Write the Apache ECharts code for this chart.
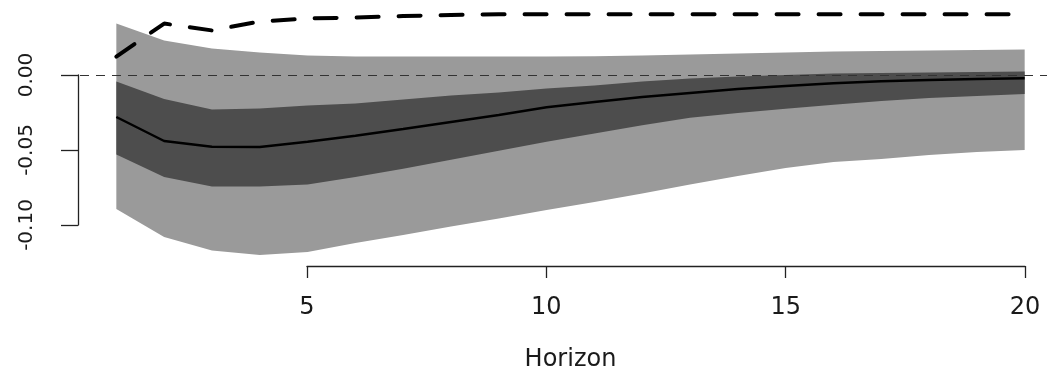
<!DOCTYPE html>
<html><head><meta charset="utf-8">
<script src="https://cdn.jsdelivr.net/npm/echarts@6/dist/echarts.min.js"></script>
<style>html,body{margin:0;padding:0;background:#fff}#c{width:1047px;height:372px}</style>
</head><body><div id="c"></div>
<script>
const horizon = [1,2,3,4,5,6,7,8,9,10,11,12,13,14,15,16,17,18,19,20];
const median = [-0.028,-0.044,-0.0478,-0.048,-0.0445,-0.0405,-0.036,-0.0313,-0.0267,-0.0215,-0.018,-0.0147,-0.012,-0.0093,-0.0073,-0.0055,-0.0042,-0.0033,-0.0027,-0.0022];
const innerLower = [-0.053,-0.068,-0.0743,-0.0743,-0.073,-0.068,-0.0625,-0.0565,-0.0505,-0.0445,-0.039,-0.0335,-0.0285,-0.0253,-0.0225,-0.0198,-0.0173,-0.0153,-0.014,-0.0127];
const innerUpper = [-0.0043,-0.016,-0.023,-0.0223,-0.0203,-0.019,-0.0163,-0.0137,-0.0117,-0.009,-0.007,-0.0043,-0.0023,-0.001,0.0,0.001,0.0013,0.0017,0.002,0.0023];
const outerLower = [-0.0893,-0.108,-0.117,-0.12,-0.118,-0.112,-0.1067,-0.101,-0.0956,-0.09,-0.0847,-0.079,-0.073,-0.0673,-0.062,-0.058,-0.056,-0.0533,-0.0513,-0.05];
const outerUpper = [0.0343,0.023,0.0177,0.015,0.013,0.0123,0.0123,0.0123,0.0123,0.0123,0.0125,0.013,0.0137,0.0143,0.015,0.0157,0.016,0.0163,0.0167,0.017];
const dashedLine = [0.0123,0.0343,0.0297,0.0357,0.0377,0.0383,0.0393,0.04,0.0405,0.0405,0.0405,0.0405,0.0405,0.0405,0.0405,0.0405,0.0405,0.0405,0.0405,0.0405];
const xTicks = [5,10,15,20];
const xTickLabels = ['5','10','15','20'];
const yTicks = [-0.10,-0.05,0.00];
const yTickLabels = ['-0.10','-0.05','0.00'];
const xTitle = 'Horizon';

const pair = arr => horizon.map((h,i)=>[h, arr[i]]);
const bandData = (lo, hi) => horizon.map((h,i)=>[h, lo[i], hi[i]]);

function bandRenderer(color){
  return function(params, api){
    if (params.dataIndexInside !== 0) return null;
    const n = params.dataInsideLength;
    const upper = [], lower = [];
    for (let i=0;i<n;i++){
      const x = api.value(0, i);
      lower.push(api.coord([x, api.value(1, i)]));
      upper.push(api.coord([x, api.value(2, i)]));
    }
    const pts = upper.concat(lower.reverse());
    return {type:'polygon', shape:{points:pts}, style:{fill:color, stroke:null}, silent:true};
  };
}

const txt = '#1a1a1a';
const axisCol = '#222';
const chart = echarts.init(document.getElementById('c'), null, {renderer:'canvas'});
const hidden = {show:false};
chart.setOption({
  animation:false,
  backgroundColor:'#fff',
  grid:[
    {left:80, top:7.5, width:981, height:255, outerBoundsMode:'none', containLabel:false},
    {left:78, top:75, width:10, height:150, outerBoundsMode:'none', containLabel:false},
    {left:307, top:256, width:718, height:10, outerBoundsMode:'none', containLabel:false}
  ],
  xAxis:[
    {gridIndex:0, type:'value', min:0.24, max:20.76, show:true,
     axisLine:hidden, axisTick:hidden, axisLabel:hidden, splitLine:hidden,
     name:xTitle, nameLocation:'middle', nameGap:97,
     nameTextStyle:{fontFamily:'DejaVu Sans', fontSize:24, color:txt, verticalAlign:'middle'}},
    {gridIndex:1, type:'value', show:false},
    {gridIndex:2, type:'value', position:'bottom', min:xTicks[0], max:xTicks[xTicks.length-1], interval:5,
     axisLine:{show:true, onZero:false, lineStyle:{color:axisCol, width:1.3}},
     axisTick:{show:true, length:12, lineStyle:{color:axisCol, width:1.3}},
     axisLabel:{show:true, margin:42, verticalAlign:'middle', fontFamily:'DejaVu Sans', fontSize:24, color:txt,
       formatter:(v)=>{const i=xTicks.indexOf(Math.round(v)); return i>=0?xTickLabels[i]:'';}},
     splitLine:hidden}
  ],
  yAxis:[
    {gridIndex:0, type:'value', min:-0.125, max:0.045, show:false},
    {gridIndex:1, type:'value', position:'left', min:-0.10, max:0, interval:0.05,
     axisLine:{show:true, onZero:false, lineStyle:{color:axisCol, width:1.3}},
     axisTick:{show:true, length:17, lineStyle:{color:axisCol, width:1.3}},
     axisLabel:{show:true, rotate:90, margin:51, align:'center', verticalAlign:'middle',
       fontFamily:'DejaVu Sans', fontSize:20, color:txt,
       formatter:(v)=>{let best=0; yTicks.forEach((t,i)=>{if(Math.abs(t-v)<Math.abs(yTicks[best]-v)) best=i;}); return yTickLabels[best];}},
     splitLine:hidden},
    {gridIndex:2, type:'value', show:false}
  ],
  series:[
    {type:'custom', xAxisIndex:0, yAxisIndex:0, data:bandData(outerLower, outerUpper),
     encode:{x:0, y:[1,2]}, renderItem:bandRenderer('#9a9a9a'), silent:true, z:1},
    {type:'custom', xAxisIndex:0, yAxisIndex:0, data:bandData(innerLower, innerUpper),
     encode:{x:0, y:[1,2]}, renderItem:bandRenderer('#4d4d4d'), silent:true, z:2},
    {type:'line', xAxisIndex:0, yAxisIndex:0, data:pair(median), symbol:'none',
     lineStyle:{color:'#000', width:2.5}, silent:true, z:3,
     markLine:{silent:true, symbol:['none','none'], label:{show:false},
       lineStyle:{color:'#333', width:1.2, type:[9,7]}, data:[{yAxis:0}]}},
    {type:'line', xAxisIndex:0, yAxisIndex:0, data:pair(dashedLine), symbol:'none',
     lineStyle:{color:'#000', width:4, type:[22,20], cap:'round'}, silent:true, z:3}
  ]
});
</script></body></html>
